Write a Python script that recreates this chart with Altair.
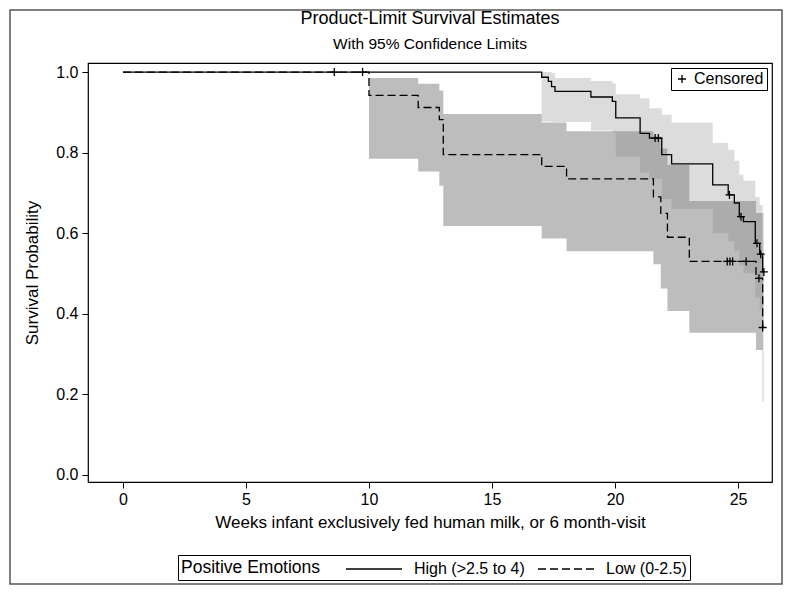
import altair as alt
import pandas as pd

# ---- survival curves (week, survival) ----
high_t = [0, 17.02, 17.29, 17.42, 17.56, 19.02, 19.89, 20.03, 21.02, 21.40, 21.90, 22.30,
          23.97, 24.60, 24.85, 25.05, 25.22, 25.70, 25.88, 26.00, 26.05]
high_s = [1.0, 0.987, 0.977, 0.964, 0.952, 0.938, 0.927, 0.886, 0.848, 0.836, 0.795, 0.772,
          0.720, 0.695, 0.675, 0.641, 0.629, 0.575, 0.548, 0.504, 0.504]

low_t = [0, 10.0, 12.0, 12.86, 13.02, 17.02, 18.03, 21.56, 21.86, 22.13, 23.02, 25.73, 26.0]
low_s = [1.0, 0.942, 0.912, 0.882, 0.795, 0.766, 0.735, 0.690, 0.649, 0.590, 0.530, 0.488, 0.366]

# ---- 95% confidence bands ----
high_band_t = [17.02, 17.29, 17.42, 17.56, 19.02, 19.89, 20.03, 21.02, 21.40, 21.90, 22.30,
               23.97, 24.60, 24.85, 25.05, 25.22, 25.70, 25.88, 26.00, 26.05]
high_lo = [0.877, 0.877, 0.876, 0.876, 0.855, 0.85, 0.79, 0.75, 0.735, 0.685, 0.66,
           0.60, 0.58, 0.555, 0.52, 0.50, 0.44, 0.41, 0.36, 0.36]
high_hi = [1.0, 1.0, 0.997, 0.985, 0.978, 0.972, 0.945, 0.935, 0.91, 0.894, 0.874,
           0.824, 0.807, 0.78, 0.745, 0.73, 0.69, 0.67, 0.65, 0.65]

low_band_t = [10.0, 12.0, 12.86, 13.02, 17.02, 18.03, 21.56, 21.86, 22.13, 23.02, 25.73, 26.0, 26.03]
low_lo = [0.785, 0.753, 0.718, 0.618, 0.587, 0.555, 0.523, 0.463, 0.407, 0.353, 0.31, 0.182, 0.182]
low_hi = [0.985, 0.971, 0.954, 0.896, 0.875, 0.853, 0.84, 0.81, 0.77, 0.68, 0.65, 0.55, 0.55]

# ---- censored observations ----
cens_t = [8.59, 9.74, 21.63, 21.76, 24.65, 25.12, 25.77, 25.92, 26.05,
          24.56, 24.67, 24.78, 25.33, 25.85, 26.0]
cens_s = [1.0, 1.0, 0.836, 0.836, 0.695, 0.641, 0.575, 0.548, 0.504,
          0.530, 0.530, 0.530, 0.530, 0.488, 0.366]

groups = ["High (>2.5 to 4)", "Low (0-2.5)"]
x_ticks = [0, 5, 10, 15, 20, 25]
y_ticks = [0.0, 0.2, 0.4, 0.6, 0.8, 1.0]
title_text = "Product-Limit Survival Estimates"
subtitle_text = "With 95% Confidence Limits"

FONT = "Liberation Sans"
W, H = 684, 419

curves = pd.concat([
    pd.DataFrame({"t": high_t, "s": high_s, "g": groups[0]}),
    pd.DataFrame({"t": low_t, "s": low_s, "g": groups[1]}),
])
hb = pd.DataFrame({"t": high_band_t, "lo": high_lo, "hi": high_hi})
lb = pd.DataFrame({"t": low_band_t, "lo": low_lo, "hi": low_hi})
cens = pd.DataFrame({"t": cens_t, "s": cens_s, "c": "Censored"})
one = pd.DataFrame({"title": [title_text], "subtitle": [subtitle_text]})

xs = alt.Scale(domain=[-1.42, 26.38], nice=False, zero=False)
ys = alt.Scale(domain=[-0.0174, 1.0224], nice=False, zero=False)

xax = alt.Axis(values=x_ticks, title="Weeks infant exclusively fed human milk, or 6 month-visit",
               grid=False, domain=False, tickSize=6, labelPadding=3, titlePadding=7,
               labelFontSize=16, titleFontSize=17, titleFontWeight="normal", format="d")
yax = alt.Axis(values=y_ticks, title="Survival Probability", grid=False, domain=False,
               tickSize=6, labelPadding=4, titlePadding=14, format=".1f",
               labelFontSize=16, titleFontSize=17, titleFontWeight="normal")

band_high = alt.Chart(hb).mark_area(interpolate="step-after", color="#808080", opacity=0.28).encode(
    x=alt.X("t:Q", scale=xs, axis=xax), y=alt.Y("lo:Q", scale=ys, axis=yax), y2="hi:Q")
band_low = alt.Chart(lb).mark_area(interpolate="step-after", color="#808080", opacity=0.52).encode(
    x=alt.X("t:Q", scale=xs), y=alt.Y("lo:Q", scale=ys), y2="hi:Q")

lines = alt.Chart(curves).mark_line(interpolate="step-after", color="black", strokeWidth=1.3).encode(
    x=alt.X("t:Q", scale=xs),
    y=alt.Y("s:Q", scale=ys),
    strokeDash=alt.StrokeDash("g:N", scale=alt.Scale(domain=groups, range=[[1, 0], [8, 4]]),
                              legend=alt.Legend(title="Positive Emotions", orient="none",
                                                legendX=90, legendY=492, direction="horizontal",
                                                titleOrient="left", titleAnchor="middle",
                                                titleBaseline="middle",
                                                strokeColor="black", padding=3,
                                                symbolType="M-2.8,0H2.8", symbolSize=400,
                                                symbolStrokeWidth=1.3, symbolStrokeColor="black",
                                                labelFontSize=16, titleFontSize=17.5,
                                                titleFontWeight="normal", labelOffset=29,
                                                columnPadding=10, titlePadding=42, labelLimit=0)),
)

cross = "M-1,0H1M0,-1V1"
cpts = alt.Chart(cens).mark_point(filled=False, color="black", strokeWidth=1.3, size=64, opacity=1).encode(
    x=alt.X("t:Q", scale=xs),
    y=alt.Y("s:Q", scale=ys),
    shape=alt.Shape("c:N", scale=alt.Scale(domain=["Censored"], range=[cross]),
                    legend=alt.Legend(title=None, orient="top-right", offset=5, strokeColor="black",
                                      padding=3, labelFontSize=16, symbolSize=64,
                                      symbolStrokeWidth=1.3, symbolStrokeColor="black",
                                      symbolFillColor="transparent", labelOffset=4)),
)

border = alt.Chart(one).mark_rect(
    fill="transparent", stroke="#555555", strokeWidth=1.5).encode(
    x=alt.value(-78), x2=alt.value(W + 10), y=alt.value(-53), y2=alt.value(H + 102))

title_mark = alt.Chart(one).mark_text(fontSize=18, font=FONT, color="black",
                                      align="center", baseline="middle").encode(
    x=alt.value(W / 2), y=alt.value(-44), text="title:N")
subtitle_mark = alt.Chart(one).mark_text(fontSize=15.5, font=FONT, color="black",
                                         align="center", baseline="middle").encode(
    x=alt.value(W / 2), y=alt.value(-19), text="subtitle:N")

chart = alt.layer(border, band_high, band_low, lines, cpts, title_mark, subtitle_mark).properties(
    width=W, height=H,
    autosize=alt.AutoSizeParams(type="none"),
    padding={"left": 80, "top": 55, "right": 11, "bottom": 103},
).configure(font=FONT).configure_view(stroke="black", strokeWidth=1.2).configure_axis(
    labelColor="black", titleColor="black", tickColor="black", labelFont=FONT, titleFont=FONT
).configure_legend(labelFont=FONT, titleFont=FONT, labelColor="black", titleColor="black")

chart.save("out.html", embed_options={"renderer": "svg", "actions": False})
